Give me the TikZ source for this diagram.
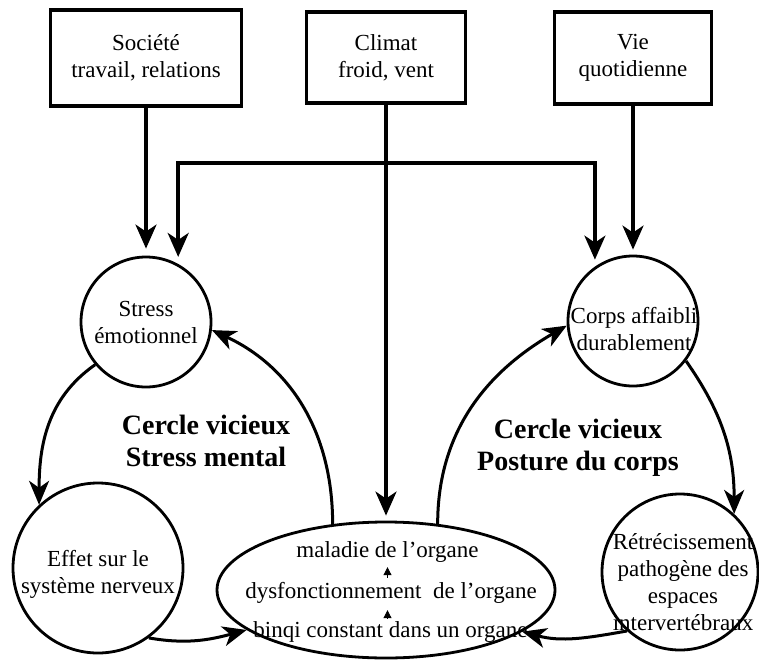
\documentclass[tikz,border=0pt]{standalone}
\usepackage{fontspec}
\setmainfont{Liberation Serif}
\usetikzlibrary{arrows.meta,shapes.geometric}
\begin{document}
\begin{tikzpicture}[x=1pt,y=1pt,
  box/.style={draw,line width=3.6pt,align=center,inner sep=0pt,font=\fontsize{23}{27}\selectfont},
  circ/.style={draw,circle,line width=2.8pt,inner sep=0pt},
  txt/.style={align=center,inner sep=0pt,font=\fontsize{23}{27}\selectfont},
  boldtxt/.style={align=center,inner sep=0pt,font=\fontsize{28}{32}\selectfont\bfseries},
  conn/.style={line width=3.4pt,-{Stealth[length=24pt,width=21pt,inset=7pt]}},
  cyc/.style={line width=3pt,-{Stealth[length=24pt,width=20pt,inset=7pt]}},
  smallarr/.style={line width=0.8pt,-{Triangle[length=8pt,width=8pt]}}]
\path[use as bounding box,fill=white] (0,0) rectangle (759,-663);
% top boxes
\node[box,minimum width=191pt,minimum height=96pt] (soc) at (146,-58) {Société\\travail, relations};
\node[box,minimum width=159pt,minimum height=91pt] (cli) at (386,-57.5) {Climat\\froid, vent};
\node[box,minimum width=157pt,minimum height=92pt] (vie) at (633,-58) {Vie\\quotidienne};
% circles
\node[circ,minimum size=130pt] (stress) at (146,-322) {};
\node[txt] (stressT) at (146,-322) {Stress\\émotionnel};
\node[circ,minimum size=170pt] (effet) at (98,-568) {};
\node[txt] (effetT) at (98,-574) {Effet sur le\\système nerveux};
\node[circ,minimum size=130pt] (corps) at (633,-321) {};
\node[txt] (corpsT) at (634,-329) {Corps affaibli\\durablement};
\node[circ,minimum size=156pt] (retr) at (680,-572) {};
\node[txt] (retrT) at (683,-582) {Rétrécissement\\pathogène des\\espaces\\intervertébraux};
% ellipse
\node[draw,ellipse,line width=2.8pt,minimum width=338pt,minimum height=136pt,inner sep=0pt] (org) at (386,-590) {};
\node[txt,anchor=base] (m1) at (387.5,-557) {maladie de l’organe};
\node[txt,anchor=base] (m2) at (391,-598) {dysfonctionnement\ \ de l’organe};
\node[txt,anchor=base] (m3) at (390.5,-637) {binqi constant dans un organe};
\draw[smallarr,shorten <=4pt,shorten >=5pt] (m2.north -| m1) -- (m1.south);
\draw[smallarr,shorten <=3pt,shorten >=7pt] (m3.north -| m1) -- (m2.south -| m1);
% titles
\node[boldtxt] (c1) at (206,-441) {Cercle vicieux\\Stress mental};
\node[boldtxt] (c2) at (578,-448) {Cercle vicieux\\Posture du corps};
% connectors from boxes
\coordinate (br) at (386,-163);
\draw[conn,shorten >=7pt] (soc.south) -- (stress.north);
\draw[conn,shorten >=5pt] (cli.south) -- (org.north);
\draw[conn,shorten >=5pt] (vie.south) -- (corps.north);
\draw[conn,shorten >=7pt] (br) -| (stress.61);
\draw[conn,shorten >=7pt] (br) -| (corps.125);
% left cycle
\draw[cyc] (stress.220) to[out=215,in=90] (effet.133);
\draw[cyc] (effet.-54) to[out=-10,in=195] (org.196);
\draw[cyc] (org.129) to[out=90,in=-25] (stress.-7);
% right cycle
\draw[cyc] (org.52) to[out=90,in=210] (corps.184);
\draw[cyc] (corps.-37) to[out=-55,in=90] (retr.47);
\draw[cyc] (retr.228) to[out=190,in=-15] (org.-17);
\end{tikzpicture}
\end{document}
